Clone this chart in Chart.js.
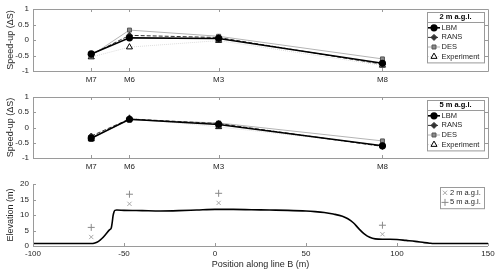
<!DOCTYPE html>
<html>
<head>
<meta charset="utf-8">
<script src="https://cdn.jsdelivr.net/npm/chart.js@4.4.1/dist/chart.umd.min.js"></script>
<style>
body{margin:0;background:#fff;width:500px;height:272px;overflow:hidden}
canvas{position:absolute;left:0}
</style>
</head>
<body>
<canvas id="c1" width="500" height="88" style="top:0px"></canvas>
<canvas id="c2" width="500" height="87" style="top:88px"></canvas>
<canvas id="c3" width="500" height="97" style="top:175px"></canvas>
<script>
// stations along line B
const stations = ["M7", "M6", "M3", "M8"];
const stationPos = [-68, -47, 2, 92];

// speed-up at 2 m a.g.l.
const lbm2 = [-0.45, 0.07, 0.05, -0.75];
const rans2 = [-0.47, 0.15, 0.08, -0.78];
const des2 = [-0.50, 0.32, 0.12, -0.61];
const exp2 = [-0.55, -0.23, -0.02, -0.82];

// speed-up at 5 m a.g.l.
const lbm5 = [-0.35, 0.27, 0.10, -0.60];
const rans5 = [-0.28, 0.28, 0.13, -0.62];
const des5 = [-0.33, 0.25, 0.15, -0.44];
const exp5 = [-0.38, 0.30, 0.02, -0.58];

// terrain profile
const profileX = [-100, -80, -68, -66, -64, -62, -60, -58, -57, -56.5, -56, -55.5, -55, -54, -50, -40, -30, -20, -10, 0, 10, 20, 30, 40, 50, 55, 60, 65, 70, 73, 76, 79, 82, 85, 88, 92, 96, 100, 105, 110, 115, 118, 120, 130, 140, 150];
const profileZ = [0.8, 0.8, 0.8, 1.0, 1.5, 2.5, 3.8, 5.2, 5.8, 7.5, 9.8, 11.0, 11.5, 11.6, 11.5, 11.4, 11.3, 11.4, 11.6, 11.8, 11.8, 11.7, 11.6, 11.5, 11.3, 11.1, 10.8, 10.3, 9.6, 8.8, 7.5, 5.6, 3.9, 2.8, 2.3, 2.2, 2.2, 2.1, 1.8, 1.5, 1.1, 0.9, 0.8, 0.8, 0.8, 0.8];

// measurement heights above terrain
const mast2 = [2.9, 13.6, 13.9, 3.8];
const mast5 = [6.0, 16.7, 17.0, 6.7];

const FONT = '"Liberation Sans", Arial, sans-serif';
const TXT = '#262626';
const AXC = '#9a9a9a';
Chart.defaults.font.family = FONT;
Chart.defaults.color = TXT;

function pts(xs, ys){ return xs.map((x, i) => ({x: x, y: ys[i]})); }

const frame = {
  id: 'frame',
  afterDatasetsDraw(chart, args, o){
    const {ctx, chartArea: a, scales} = chart;
    ctx.save();
    ctx.strokeStyle = AXC;
    ctx.lineWidth = 1;
    ctx.beginPath();
    if (o.box) {
      ctx.rect(a.left + 0.5, a.top + 0.5, a.right - a.left, a.bottom - a.top);
    } else {
      ctx.moveTo(a.left + 0.5, a.top);
      ctx.lineTo(a.left + 0.5, a.bottom + 0.5);
      ctx.lineTo(a.right, a.bottom + 0.5);
    }
    scales.x.ticks.forEach(t => {
      const px = Math.round(scales.x.getPixelForValue(t.value)) + 0.5;
      ctx.moveTo(px, a.bottom); ctx.lineTo(px, a.bottom - 3);
      if (o.box) { ctx.moveTo(px, a.top); ctx.lineTo(px, a.top + 3); }
    });
    scales.y.ticks.forEach(t => {
      const py = Math.round(scales.y.getPixelForValue(t.value)) + 0.5;
      ctx.moveTo(a.left, py); ctx.lineTo(a.left + 3, py);
      if (o.box) { ctx.moveTo(a.right, py); ctx.lineTo(a.right - 3, py); }
    });
    ctx.stroke();
    ctx.restore();
  }
};

function drawMarker(ctx, ds, x, y){
  Chart.helpers.drawPoint(ctx, {
    pointStyle: ds.pointStyle, radius: ds.pointRadius, borderWidth: ds.pointBorderWidth || 1, rotation: 0
  }, x, y);
}

const boxLegend = {
  id: 'boxLegend',
  afterDraw(chart, args, o){
    if (!o.show) return;
    const ctx = chart.ctx, a = chart.chartArea;
    const dss = chart.data.datasets.filter(d => d.label);
    const w = o.w, x0 = a.right - w - 4, y0 = a.top + 3;
    const h = (o.title ? 10 : 0) + dss.length * 9.6 + 2;
    ctx.save();
    ctx.fillStyle = '#fff';
    ctx.fillRect(x0, y0, w, h);
    ctx.strokeStyle = AXC;
    ctx.lineWidth = 1;
    ctx.strokeRect(Math.round(x0) + 0.5, Math.round(y0) + 0.5, w, h);
    let y = y0;
    ctx.textBaseline = 'middle';
    if (o.title) {
      ctx.font = 'bold 7.5px ' + FONT;
      ctx.fillStyle = '#000';
      ctx.textAlign = 'center';
      ctx.fillText(o.title, x0 + w / 2, y + 5.2);
      y += 10;
      ctx.beginPath();
      ctx.moveTo(x0, Math.round(y) + 0.5); ctx.lineTo(x0 + w, Math.round(y) + 0.5);
      ctx.stroke();
    }
    ctx.font = '7.5px ' + FONT;
    ctx.textAlign = 'left';
    dss.forEach(ds => {
      const cy = y + 5.8;
      if (o.lines) {
        ctx.strokeStyle = ds.borderColor;
        ctx.lineWidth = ds.borderWidth;
        ctx.setLineDash(ds.borderDash || []);
        ctx.beginPath();
        ctx.moveTo(x0 + 1, cy); ctx.lineTo(x0 + 13, cy);
        ctx.stroke();
        ctx.setLineDash([]);
      }
      ctx.fillStyle = ds.pointBackgroundColor;
      ctx.strokeStyle = ds.pointBorderColor;
      drawMarker(ctx, ds, x0 + (o.lines ? 7 : 5), cy);
      ctx.fillStyle = TXT;
      ctx.fillText(ds.label, x0 + (o.lines ? 14.5 : 10), cy);
      y += 9.6;
    });
    ctx.restore();
  }
};

function speedChart(id, title, lbm, rans, des, exp){
  return new Chart(document.getElementById(id), {
    type: 'line',
    data: {
      datasets: [
        {label: 'LBM', data: pts(stationPos, lbm), borderColor: '#000', borderWidth: 1.6,
         pointStyle: 'circle', pointRadius: 2.8, pointBackgroundColor: '#000', pointBorderColor: '#000'},
        {label: 'RANS', data: pts(stationPos, rans), borderColor: '#333', borderWidth: 1, borderDash: [4, 2],
         pointStyle: 'rectRot', pointRadius: 3, pointBackgroundColor: '#333', pointBorderColor: '#333'},
        {label: 'DES', data: pts(stationPos, des), borderColor: '#b4b4b4', borderWidth: 1,
         pointStyle: 'rect', pointRadius: 2.8, pointBackgroundColor: '#8c8c8c', pointBorderColor: '#555'},
        {label: 'Experiment', data: pts(stationPos, exp), borderColor: '#dcdcdc', borderWidth: 1, borderDash: [1, 1],
         pointStyle: 'triangle', pointRadius: 3.5, pointBackgroundColor: '#fff', pointBorderColor: '#000'}
      ]
    },
    options: {
      responsive: false, animation: false, devicePixelRatio: 1,
      layout: {padding: {left: 5, right: 12, top: 9, bottom: 0}},
      plugins: {legend: {display: false}, tooltip: {enabled: false},
        frame: {box: true}, boxLegend: {show: true, title: title, w: 57, lines: true}},
      scales: {
        x: {type: 'linear', min: -100, max: 150,
          afterBuildTicks: s => { s.ticks = stationPos.map(v => ({value: v})); },
          afterFit: s => { s.height = 17; },
          ticks: {font: {size: 8}, padding: 4, maxRotation: 0, autoSkip: false,
            callback: v => stations[stationPos.indexOf(v)]},
          grid: {display: false, drawTicks: false}, border: {display: false}},
        y: {min: -1, max: 1,
          afterFit: s => { s.width = 28; },
          ticks: {stepSize: 0.5, font: {size: 8}, padding: 4, callback: v => String(+v.toFixed(2))},
          grid: {display: false, drawTicks: false}, border: {display: false},
          title: {display: true, text: 'Speed-up (\u0394S)', font: {size: 9}, padding: 0}}
      }
    },
    plugins: [frame, boxLegend]
  });
}

speedChart('c1', '2 m a.g.l.', lbm2, rans2, des2, exp2);
speedChart('c2', '5 m a.g.l.', lbm5, rans5, des5, exp5);

new Chart(document.getElementById('c3'), {
  type: 'scatter',
  data: {
    datasets: [
      {data: pts(profileX, profileZ), showLine: true, borderColor: '#000', borderWidth: 1.6,
       pointRadius: 0, cubicInterpolationMode: 'monotone'},
      {label: '2 m a.g.l.', data: pts(stationPos, mast2), pointStyle: 'crossRot', pointRadius: 3,
       pointBorderWidth: 1, pointBorderColor: '#a8a8a8', pointBackgroundColor: '#a8a8a8'},
      {label: '5 m a.g.l.', data: pts(stationPos, mast5), pointStyle: 'cross', pointRadius: 3.5,
       pointBorderWidth: 1, pointBorderColor: '#8a8a8a', pointBackgroundColor: '#8a8a8a'}
    ]
  },
  options: {
    responsive: false, animation: false, devicePixelRatio: 1,
    layout: {padding: {left: 5, right: 12, top: 9, bottom: 0}},
    plugins: {legend: {display: false}, tooltip: {enabled: false},
      frame: {box: false}, boxLegend: {show: true, title: '', w: 44, lines: false}},
    scales: {
      x: {type: 'linear', min: -100, max: 150,
        afterFit: s => { s.height = 26; },
        ticks: {stepSize: 50, font: {size: 8}, padding: 3, maxRotation: 0, autoSkip: false},
        grid: {display: false, drawTicks: false}, border: {display: false},
        title: {display: true, text: 'Position along line B (m)', font: {size: 9}, padding: {top: 0, bottom: 2}}},
      y: {min: 0, max: 20,
        afterFit: s => { s.width = 28; },
        ticks: {stepSize: 5, font: {size: 8}, padding: 4},
        grid: {display: false, drawTicks: false}, border: {display: false},
        title: {display: true, text: 'Elevation (m)', font: {size: 9}, padding: 0}}
    }
  },
  plugins: [frame, boxLegend]
});
</script>
</body>
</html>
